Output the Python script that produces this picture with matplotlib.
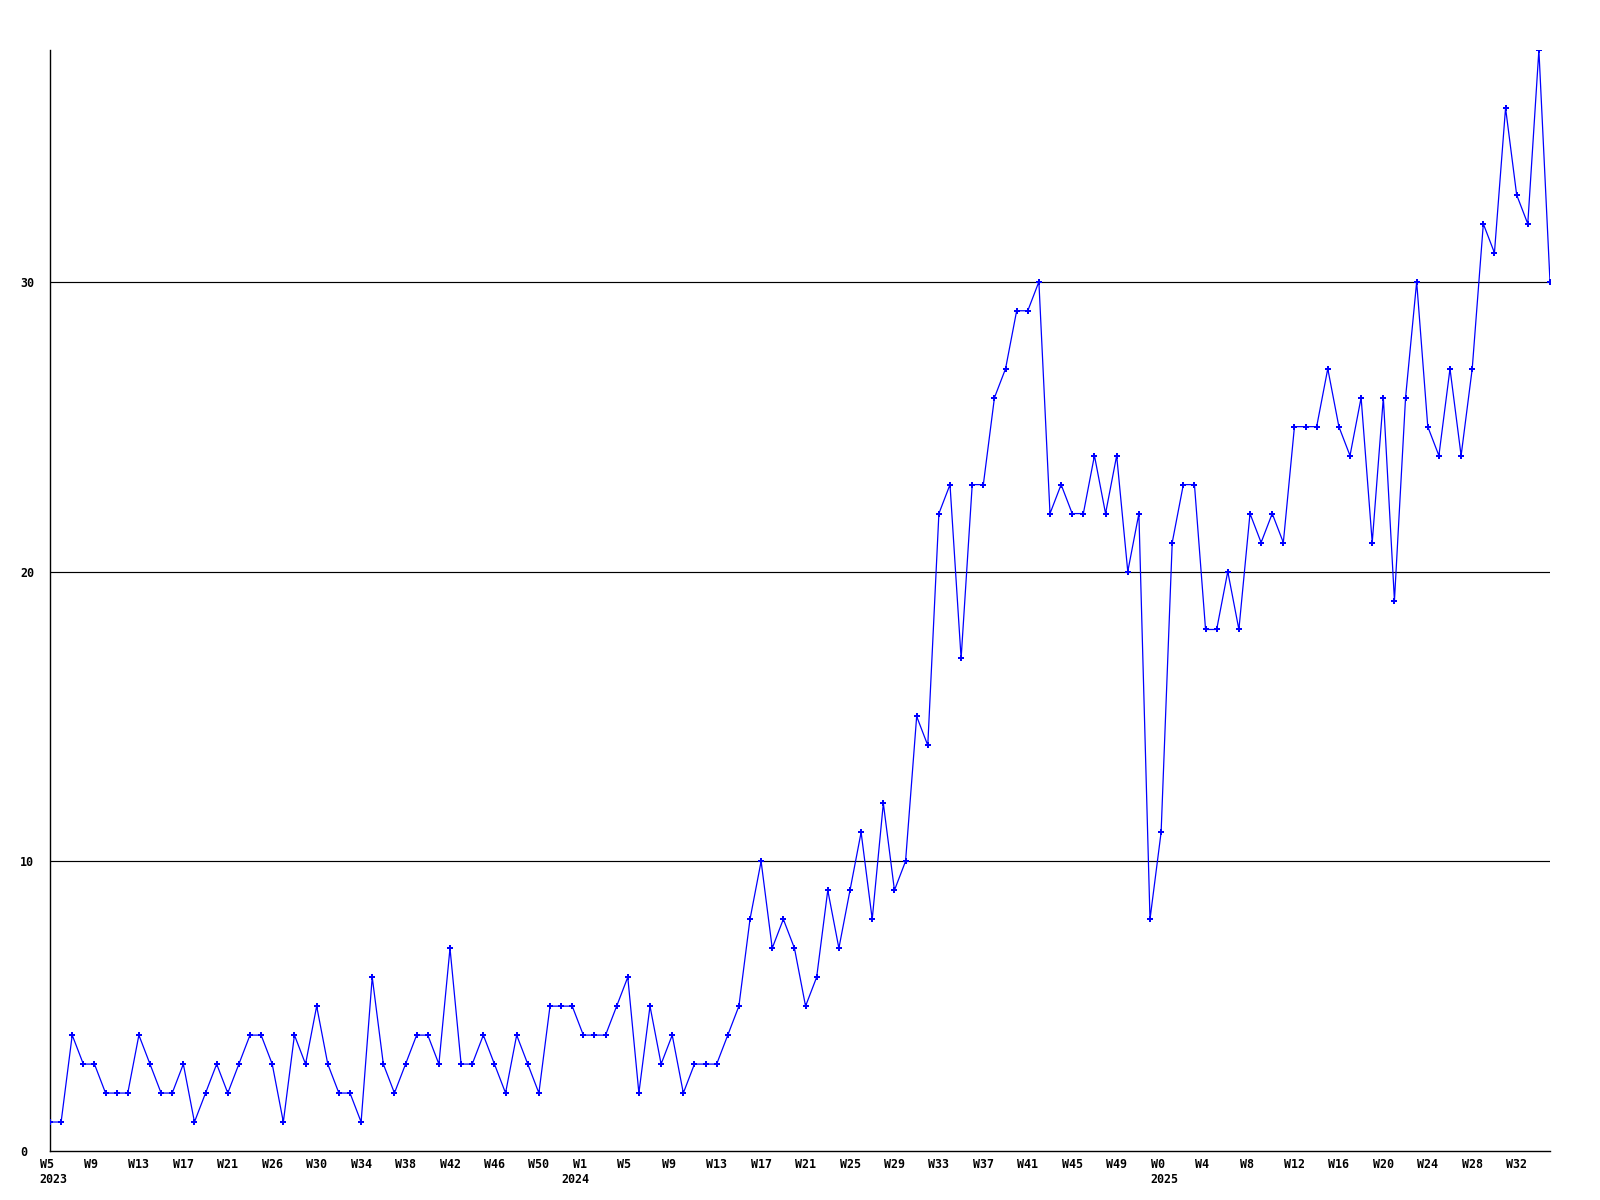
import matplotlib
matplotlib.use('Agg')
import matplotlib.pyplot as plt

# weekly counts, W5 2023 .. W35 2025
values = [1, 1, 4, 3, 3, 2, 2, 2, 4, 3, 2, 2, 3, 1, 2, 3, 2, 3, 4, 4,
          3, 1, 4, 3, 5, 3, 2, 2, 1, 6, 3, 2, 3, 4, 4, 3, 7, 3, 3, 4,
          3, 2, 4, 3, 2, 5, 5, 5, 4, 4, 4, 5, 6, 2, 5, 3, 4, 2, 3, 3,
          3, 4, 5, 8, 10, 7, 8, 7, 5, 6, 9, 7, 9, 11, 8, 12, 9, 10, 15, 14,
          22, 23, 17, 23, 23, 26, 27, 29, 29, 30, 22, 23, 22, 22, 24, 22, 24, 20, 22, 8,
          11, 21, 23, 23, 18, 18, 20, 18, 22, 21, 22, 21, 25, 25, 25, 27, 25, 24, 26, 21,
          26, 19, 26, 30, 25, 24, 27, 24, 27, 32, 31, 36, 33, 32, 38, 30]

week_labels = ['W5', 'W9', 'W13', 'W17', 'W21', 'W26', 'W30', 'W34', 'W38', 'W42',
               'W46', 'W50', 'W1', 'W5', 'W9', 'W13', 'W17', 'W21', 'W25', 'W29',
               'W33', 'W37', 'W41', 'W45', 'W49', 'W0', 'W4', 'W8', 'W12', 'W16',
               'W20', 'W24', 'W28', 'W32']
label_step = 4

years = ['2023', '2024', '2025']
year_start = [0, 47, 100]

y_ticks = [0, 10, 20, 30]

font = dict(family='DejaVu Sans Mono', fontweight='bold', fontsize=8.4)

fig = plt.figure(figsize=(16, 12), dpi=100)
ax = fig.add_axes([50 / 1600, 49 / 1200, 1500 / 1600, 1101 / 1200])

x = list(range(len(values)))
ax.plot(x, values, color='#0000ff', lw=0.9, marker='P', ms=4.2, mew=0,
        zorder=3)

for t in y_ticks[1:]:
    ax.axhline(t, color='black', lw=0.85, zorder=2)

ax.set_xlim(0, len(values) - 1)
ax.set_ylim(0, max(values))

for s in ['top', 'right']:
    ax.spines[s].set_visible(False)
for s in ['left', 'bottom']:
    ax.spines[s].set_linewidth(1.0)
    ax.spines[s].set_color('black')

ax.set_xticks([])
ax.set_yticks(y_ticks)
ax.set_yticklabels([str(t) for t in y_ticks], ha='left', **font)
ax.tick_params(axis='y', length=0, pad=21.6)

for i, lab in enumerate(week_labels):
    ax.annotate(lab, xy=(i * label_step, 0), xycoords=('data', 'axes fraction'),
                xytext=(-10.5, -7), textcoords='offset pixels',
                ha='left', va='top', **font)

for yr, i in zip(years, year_start):
    ax.annotate(yr, xy=(i, 0), xycoords=('data', 'axes fraction'),
                xytext=(-10.5, -22), textcoords='offset pixels',
                ha='left', va='top', **font)

plt.savefig('out.png', dpi=100)
